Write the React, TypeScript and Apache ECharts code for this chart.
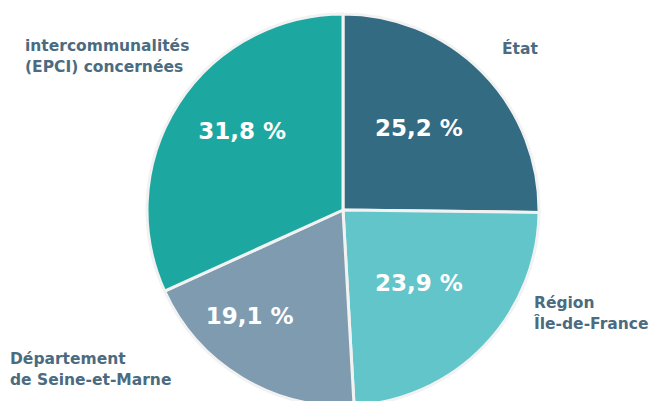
import React, { useEffect, useRef } from "react";
import * as echarts from "echarts";

const categories = [
  "État",
  "Région\nÎle-de-France",
  "Département\nde Seine-et-Marne",
  "intercommunalités\n(EPCI) concernées",
];
const values = [25.2, 23.9, 19.1, 31.8];
const valueLabels = ["25,2 %", "23,9 %", "19,1 %", "31,8 %"];
const colors = ["#336b82", "#62c5c9", "#7f9bb0", "#1ca8a1"];
const innerOffsets = [[4, -11], [3, 3], [-41, 20], [-16, -24]];
const outerLabelPos = [
  { x: 502, y: 49 },
  { x: 534, y: 313 },
  { x: 10, y: 369 },
  { x: 25, y: 56 },
];

export default function App() {
  const ref = useRef<HTMLDivElement>(null);
  useEffect(() => {
    if (!ref.current) return;
    const chart = echarts.init(ref.current, null, { renderer: "svg" });
    const font = "'DejaVu Sans', 'Open Sans', sans-serif";
    chart.setOption({
      animation: false,
      backgroundColor: "#ffffff",
      series: [
        {
          type: "pie",
          center: [343, 210],
          radius: [0, 196],
          startAngle: 90,
          clockwise: true,
          silent: true,
          itemStyle: { borderColor: "#f2f2f2", borderWidth: 3 },
          label: {
            show: true,
            position: "inside",
            color: "#ffffff",
            fontFamily: font,
            fontWeight: "bold",
            fontSize: 23,
          },
          labelLine: { show: false },
          data: values.map((v, i) => ({
            value: v,
            name: categories[i],
            itemStyle: { color: colors[i] },
            label: {
              formatter: valueLabels[i],
              offset: innerOffsets[i],
            },
          })),
        },
        {
          type: "pie",
          center: [343, 210],
          radius: [0, 196],
          startAngle: 90,
          clockwise: true,
          silent: true,
          z: 0,
          itemStyle: { color: "transparent" },
          label: {
            show: true,
            position: "outside",
            color: "#4b6b80",
            fontFamily: font,
            fontWeight: "bold",
            fontSize: 15.5,
            lineHeight: 21,
            align: "left",
            overflow: "none",
            width: 300,
            formatter: (p: any) => p.name,
          },
          labelLine: { show: false },
          labelLayout: (p: any) => ({
            x: outerLabelPos[p.dataIndex].x,
            y: outerLabelPos[p.dataIndex].y,
            align: "left",
            verticalAlign: "middle",
          }),
          data: values.map((v, i) => ({ value: v, name: categories[i] })),
        },
      ],
    });
    return () => chart.dispose();
  }, []);
  return (
    <div
      ref={ref}
      style={{ position: "fixed", left: 0, top: 0, width: 665, height: 401 }}
    />
  );
}
